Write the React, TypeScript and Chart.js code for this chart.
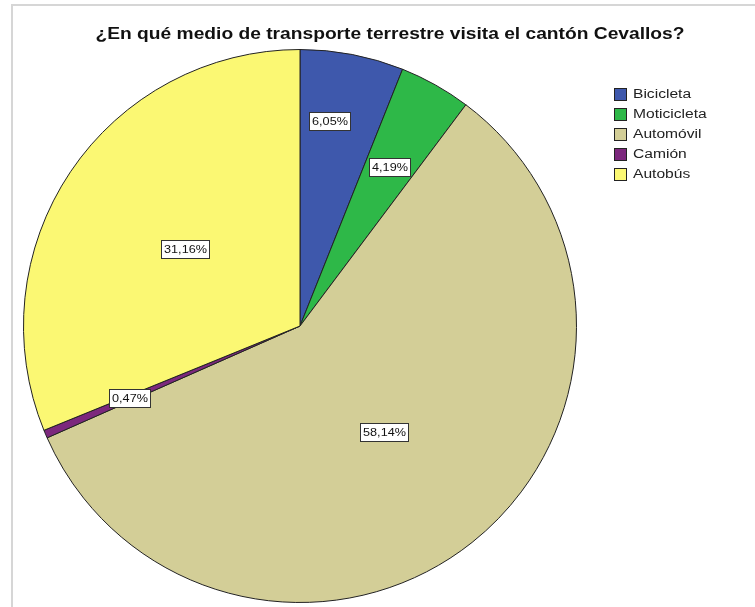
import React, { useEffect, useRef } from "react";
import { Chart, registerables } from "chart.js";

Chart.register(...registerables);

const TITLE = "¿En qué medio de transporte terrestre visita el cantón Cevallos?";
const categories = ["Bicicleta", "Moticicleta", "Automóvil", "Camión", "Autobús"];
const percentages = [6.05, 4.19, 58.14, 0.47, 31.16];
const sliceColors = ["#3E58AC", "#2EB848", "#D3CE97", "#7C287D", "#FBF873"];
const labelRadiusFrac = [0.75, 0.66, 0.49, 0.67, 0.5];
const labelAngleFrac = [0.37, 0.5, 0.5, 0.5, 0.5];

const fmt = (v: number) => v.toFixed(2).replace(".", ",") + "%";

function scaledText(ctx: any, text: string, x: number, y: number, sx: number) {
  ctx.save();
  ctx.translate(x, y);
  ctx.scale(sx, 1);
  ctx.fillText(text, 0, 0);
  ctx.restore();
}

const decorPlugin = {
  id: "decor",
  beforeDraw(chart: any) {
    const ctx = chart.ctx;
    ctx.save();
    ctx.strokeStyle = "#d6d6d6";
    ctx.lineWidth = 2;
    ctx.beginPath();
    ctx.moveTo(12, chart.height);
    ctx.lineTo(12, 5);
    ctx.lineTo(chart.width, 5);
    ctx.stroke();
    ctx.restore();
  },
  afterDraw(chart: any) {
    const ctx = chart.ctx;
    ctx.save();
    // title
    ctx.fillStyle = "#111";
    ctx.font = "bold 16px 'Liberation Sans', Arial, sans-serif";
    ctx.textAlign = "center";
    ctx.textBaseline = "alphabetic";
    scaledText(ctx, TITLE, 390, 39, 1.2);

    // legend
    ctx.font = "12px 'Liberation Sans', Arial, sans-serif";
    ctx.textAlign = "left";
    ctx.textBaseline = "middle";
    categories.forEach((c, i) => {
      const y = 88 + i * 20;
      ctx.fillStyle = sliceColors[i];
      ctx.fillRect(614, y, 13, 13);
      ctx.strokeStyle = "#222";
      ctx.lineWidth = 1;
      ctx.strokeRect(614.5, y + 0.5, 12, 12);
      ctx.fillStyle = "#222";
      scaledText(ctx, c, 633, y + 7, 1.3);
    });

    // slice labels
    const meta = chart.getDatasetMeta(0);
    ctx.font = "11px 'Liberation Sans', Arial, sans-serif";
    ctx.textAlign = "center";
    ctx.textBaseline = "middle";
    meta.data.forEach((arc: any, i: number) => {
      const p = arc.getProps(["x", "y", "startAngle", "endAngle", "outerRadius"], true);
      const a = p.startAngle + (p.endAngle - p.startAngle) * labelAngleFrac[i];
      const r = p.outerRadius * labelRadiusFrac[i];
      const cx = p.x + Math.cos(a) * r;
      const cy = p.y + Math.sin(a) * r;
      const text = fmt(percentages[i]);
      const w = Math.ceil(ctx.measureText(text).width * 1.15) + 5;
      const h = 18;
      const bx = Math.round(cx - w / 2) + 0.5;
      const by = Math.round(cy - h / 2) + 0.5;
      ctx.fillStyle = "#fff";
      ctx.fillRect(bx, by, w, h);
      ctx.strokeStyle = "#333";
      ctx.lineWidth = 1;
      ctx.strokeRect(bx, by, w, h);
      ctx.fillStyle = "#111";
      scaledText(ctx, text, bx + w / 2, by + h / 2 + 0.5, 1.15);
    });
    ctx.restore();
  },
};

export default function App() {
  const ref = useRef<HTMLCanvasElement | null>(null);
  useEffect(() => {
    if (!ref.current) return;
    const chart = new Chart(ref.current, {
      type: "pie",
      data: {
        labels: categories,
        datasets: [
          {
            data: percentages,
            backgroundColor: sliceColors,
            borderColor: "#222",
            borderWidth: 1,
          },
        ],
      },
      options: {
        animation: false,
        responsive: false,
        maintainAspectRatio: false,
        layout: { padding: { left: 23, right: 178, top: 49, bottom: 4 } },
        plugins: {
          legend: { display: false },
          title: { display: false },
          tooltip: { enabled: false },
        },
      },
      plugins: [decorPlugin],
    });
    return () => chart.destroy();
  }, []);
  return (
    <div style={{ position: "absolute", left: 0, top: 0, width: 755, height: 607, background: "#fff" }}>
      <canvas ref={ref} width={755} height={607} style={{ display: "block" }} />
    </div>
  );
}
